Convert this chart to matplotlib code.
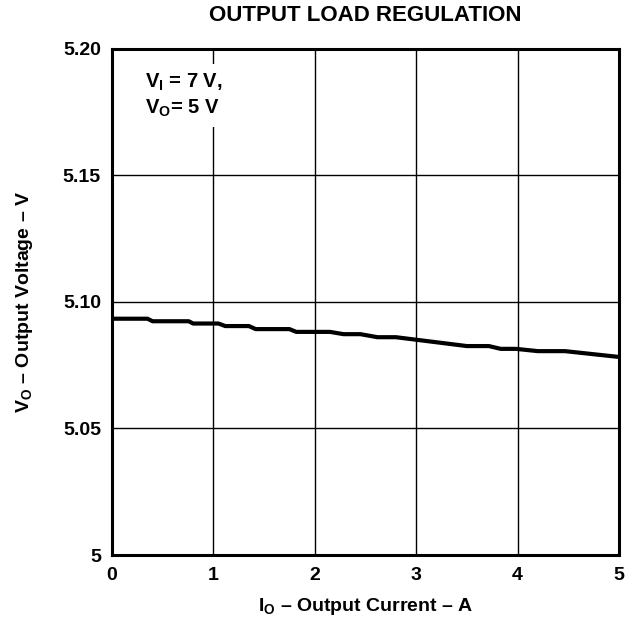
import matplotlib
matplotlib.use("Agg")
from matplotlib import pyplot as plt

plt.rcParams['font.family'] = ['Liberation Sans', 'DejaVu Sans']
plt.rcParams['font.weight'] = 'bold'
plt.rcParams['mathtext.fontset'] = 'custom'
plt.rcParams['mathtext.rm'] = 'Liberation Sans:bold'
plt.rcParams['mathtext.bf'] = 'Liberation Sans:bold'
plt.rcParams['mathtext.it'] = 'Liberation Sans:bold'

# load regulation curve, stepped
current = [0.0, 0.35, 0.40, 0.757, 0.80, 1.05, 1.117, 1.35, 1.417, 1.75,
           1.817, 2.15, 2.283, 2.45, 2.617, 2.80, 3.50, 3.717, 3.833, 3.983,
           4.20, 4.467, 5.0]
voltage = [5.0933, 5.0933, 5.0923, 5.0923, 5.0914, 5.0914, 5.0904, 5.0904,
           5.0892, 5.0892, 5.0881, 5.0881, 5.0872, 5.0872, 5.0860, 5.0860,
           5.0825, 5.0825, 5.0814, 5.0814, 5.0805, 5.0805, 5.0782]

x_ticks = [0, 1, 2, 3, 4, 5]
y_ticks = [5.00, 5.05, 5.10, 5.15, 5.20]
y_tick_labels = ['5', '5.05', '5.10', '5.15', '5.20']

fig = plt.figure(figsize=(6.33, 6.26), dpi=100)
ax = fig.add_axes([112 / 633, 71 / 626, 507 / 633, 506.5 / 626])

ax.plot(current, voltage, color='black', lw=3, solid_joinstyle='round')

ax.set_xlim(0, 5)
ax.set_ylim(5.0, 5.2)
ax.set_xticks(x_ticks)
ax.set_xticklabels([str(t) for t in x_ticks])
ax.set_yticks(y_ticks)
ax.set_yticklabels(y_tick_labels)
ax.tick_params(length=0, labelsize=14, pad=8)
ax.tick_params(axis='x', pad=9)
for lab in ax.get_xticklabels() + ax.get_yticklabels():
    lab.set_fontweight('bold')

ax.grid(True, color='black', lw=1.0)
for s in ax.spines.values():
    s.set_linewidth(2.2)

ax.set_title('OUTPUT LOAD REGULATION', fontsize=16, fontweight='bold', pad=20)
ax.set_xlabel(r'$\mathbf{I_O}$ – Output Current – A', fontsize=14,
              fontweight='bold', labelpad=8)
ax.set_ylabel(r'$\mathbf{V_O}$ – Output Voltage – V', fontsize=14,
              fontweight='bold', labelpad=20)

# test conditions, on a white patch that breaks the gridline
ax.text(0.33, 5.1815, '$\\mathbf{V_I}$ = 7 V,\n$\\mathbf{V_O}$= 5 V',
        fontsize=14.5, fontweight='bold', va='center', ha='left',
        linespacing=1.25, zorder=3,
        bbox=dict(facecolor='white', edgecolor='none', pad=6))

fig.savefig('out.png', dpi=100)
